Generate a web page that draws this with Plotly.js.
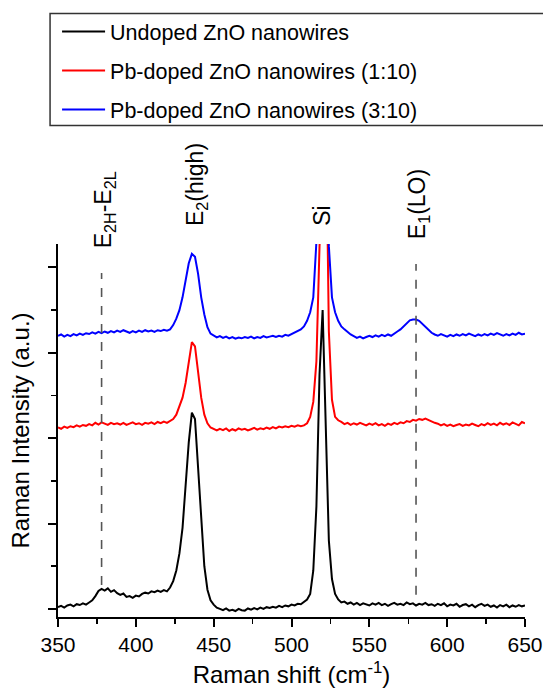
<!DOCTYPE html>
<html>
<head>
<meta charset="utf-8">
<script src="https://cdn.plot.ly/plotly-3.0.1.min.js"></script>
<style>html,body{margin:0;padding:0;background:#fff;}#chart{width:543px;height:691px;}</style>
</head>
<body>
<div id="chart"></div>
<script>
// Raman shift (cm^-1)
const ramanShift = [
350,352,354,356,358,360,362,364,366,368,
370,372,374,376,378,380,382,384,386,388,
390,392,394,396,398,400,402,404,406,408,
410,412,414,416,418,420,422,424,426,428,
430,432,434,436,438,440,442,444,446,448,
450,452,454,456,458,460,462,464,466,468,
470,472,474,476,478,480,482,484,486,488,
490,492,494,496,498,500,502,504,506,508,
510,512,514,516,518,520,522,524,526,528,
530,532,534,536,538,540,542,544,546,548,
550,552,554,556,558,560,562,564,566,568,
570,572,574,576,578,580,582,584,586,588,
590,592,594,596,598,600,602,604,606,608,
610,612,614,616,618,620,622,624,626,628,
630,632,634,636,638,640,642,644,646,648,
650];

// Undoped ZnO nanowires (offset spectra, a.u.)
const undoped = [
0.04,0.07,0.03,0.08,0.10,0.06,0.11,0.09,0.13,0.10,
0.15,0.20,0.30,0.42,0.47,0.43,0.48,0.40,0.44,0.37,
0.33,0.36,0.28,0.30,0.26,0.31,0.29,0.35,0.38,0.36,
0.41,0.39,0.43,0.40,0.44,0.41,0.50,0.65,0.90,1.30,
1.90,2.90,3.90,4.60,4.45,3.30,2.00,1.00,0.45,0.20,
0.10,0.03,0.00,-0.03,0.01,-0.04,-0.02,-0.05,0.00,-0.03,
-0.04,0.01,-0.02,0.02,-0.01,0.03,0.00,0.04,0.02,0.05,
0.03,0.07,0.04,0.08,0.06,0.10,0.08,0.12,0.11,0.16,
0.22,0.35,0.90,2.40,5.50,7.00,4.00,1.60,0.70,0.35,
0.22,0.15,0.17,0.12,0.15,0.10,0.14,0.09,0.13,0.11,
0.08,0.13,0.10,0.14,0.09,0.12,0.07,0.11,0.14,0.10,
0.12,0.09,0.15,0.11,0.13,0.08,0.12,0.10,0.14,0.09,
0.11,0.07,0.12,0.09,0.13,0.06,0.10,0.08,0.12,0.05,
0.09,0.11,0.06,0.10,0.04,0.09,0.12,0.07,0.10,0.05,
0.08,0.03,0.09,0.06,0.10,0.04,0.08,0.05,0.09,0.06,
0.08];

// Pb-doped ZnO nanowires (1:10)
const pbDoped1 = [
4.25,4.22,4.27,4.24,4.28,4.26,4.30,4.27,4.31,4.29,
4.33,4.30,4.36,4.32,4.37,4.34,4.31,4.36,4.33,4.35,
4.32,4.36,4.31,4.34,4.37,4.33,4.35,4.31,4.36,4.34,
4.37,4.33,4.38,4.35,4.39,4.36,4.40,4.45,4.55,4.75,
4.95,5.30,5.80,6.25,6.15,5.50,4.95,4.55,4.35,4.25,
4.22,4.18,4.22,4.19,4.23,4.17,4.21,4.18,4.23,4.20,
4.22,4.18,4.21,4.24,4.20,4.23,4.21,4.25,4.22,4.26,
4.23,4.27,4.25,4.28,4.26,4.29,4.27,4.30,4.28,4.30,
4.35,4.50,4.85,5.80,8.50,11.5,12.0,6.50,4.90,4.50,
4.42,4.38,4.33,4.36,4.31,4.35,4.32,4.36,4.33,4.30,
4.34,4.31,4.35,4.30,4.33,4.29,4.34,4.31,4.36,4.33,
4.37,4.35,4.40,4.38,4.43,4.41,4.45,4.43,4.46,4.42,
4.40,4.36,4.34,4.30,4.33,4.29,4.32,4.28,4.31,4.33,
4.29,4.32,4.30,4.34,4.31,4.28,4.33,4.30,4.35,4.31,
4.34,4.30,4.36,4.32,4.35,4.31,4.37,4.33,4.30,4.38,
4.35];

// Pb-doped ZnO nanowires (3:10)
const pbDoped3 = [
6.40,6.43,6.38,6.42,6.39,6.44,6.41,6.45,6.42,6.46,
6.44,6.48,6.45,6.49,6.46,6.50,6.47,6.51,6.48,6.52,
6.49,6.53,6.50,6.47,6.51,6.48,6.52,6.49,6.53,6.50,
6.52,6.49,6.53,6.51,6.54,6.52,6.55,6.65,6.80,7.00,
7.30,7.75,8.10,8.32,8.25,7.85,7.30,6.90,6.60,6.45,
6.40,6.36,6.39,6.35,6.38,6.34,6.37,6.33,6.36,6.34,
6.37,6.35,6.38,6.34,6.37,6.35,6.39,6.36,6.38,6.40,
6.37,6.40,6.38,6.42,6.40,6.44,6.48,6.52,6.55,6.62,
6.75,6.95,7.30,8.60,11.5,13.0,11.0,8.50,7.30,6.95,
6.75,6.62,6.55,6.48,6.43,6.39,6.35,6.38,6.34,6.37,
6.40,6.37,6.41,6.38,6.42,6.39,6.43,6.40,6.46,6.50,
6.55,6.62,6.70,6.76,6.78,6.78,6.75,6.68,6.60,6.53,
6.47,6.43,6.40,6.44,6.41,6.38,6.42,6.39,6.43,6.40,
6.44,6.41,6.45,6.42,6.39,6.43,6.40,6.44,6.41,6.45,
6.42,6.46,6.43,6.40,6.44,6.41,6.45,6.42,6.47,6.43,
6.45];

const seriesNames = ['Undoped ZnO nanowires', 'Pb-doped ZnO nanowires (1:10)', 'Pb-doped ZnO nanowires (3:10)'];
const seriesColors = ['#000000', '#ff0000', '#0000ff'];

// Peak assignments
const peakLabels = ['E<sub>2H</sub>-E<sub>2L</sub>', 'E<sub>2</sub>(high)', 'Si', 'E<sub>1</sub>(LO)'];
const peakPositions = [378, 437, 520, 580];
// dashed guide lines (position, lower end, upper end)
const guidePositions = [378, 580];
const guideLow = [0.56, 0.33];
const guideHigh = [7.87, 8.08];

const FONT = 'Arial, "Liberation Sans", sans-serif';

const traces = [undoped, pbDoped1, pbDoped3].map((ys, i) => ({
  type: 'scatter', mode: 'lines',
  x: ramanShift, y: ys,
  name: seriesNames[i],
  legendgroup: 'g' + i,
  line: {color: seriesColors[i], width: 2},
  hoverinfo: 'skip'
}));

const shapes = guidePositions.map((p, i) => ({
  type: 'line', xref: 'x', yref: 'y',
  x0: p, x1: p, y0: guideLow[i], y1: guideHigh[i],
  line: {color: '#555555', width: 1.6, dash: 'dash'}
}));
// legend frame
shapes.push({
  type: 'rect', xref: 'paper', yref: 'paper',
  x0: -0.017, x1: 1.3, y0: 1.318, y1: 1.618,
  line: {color: '#333333', width: 1.5}, fillcolor: 'rgba(0,0,0,0)'
});

// label placement (pixel offsets of the rotated labels)
const labelShiftX = [3, 3, -1, 2];
const labelShiftY = [-4, 18, 18, 5];
const annotations = peakLabels.map((t, i) => ({
  text: t, xref: 'x', yref: 'y', x: peakPositions[i], y: 8.5,
  showarrow: false, textangle: -90, xanchor: 'center', yanchor: 'bottom',
  xshift: labelShiftX[i], yshift: labelShiftY[i],
  font: {family: FONT, size: 23, color: '#000'}
}));

const layout = {
  width: 543, height: 691,
  margin: {l: 58, r: 18, t: 243, b: 74},
  paper_bgcolor: '#ffffff', plot_bgcolor: '#ffffff',
  font: {family: FONT, color: '#000'},
  showlegend: true,
  legend: {
    x: -0.002, y: 1.62, xanchor: 'left', yanchor: 'top',
    bgcolor: 'rgba(0,0,0,0)', borderwidth: 0,
    font: {family: FONT, size: 21.5, color: '#000'},
    traceorder: 'grouped', tracegroupgap: 8, itemwidth: 43
  },
  xaxis: {
    range: [350, 650], tick0: 350, dtick: 50,
    showline: true, linecolor: '#000', linewidth: 2, mirror: false,
    ticks: 'outside', ticklen: 8, tickwidth: 2, tickcolor: '#000',
    minor: {dtick: 25, ticks: 'outside', ticklen: 5, tickwidth: 1.5, tickcolor: '#000', showgrid: false},
    showgrid: false, zeroline: false,
    tickfont: {family: FONT, size: 21, color: '#000'},
    title: {text: 'Raman shift (cm<sup>-1</sup>)', font: {family: FONT, size: 24, color: '#000'}, standoff: 11}
  },
  yaxis: {
    range: [-0.19, 8.55], tick0: 0, dtick: 2,
    showline: true, linecolor: '#000', linewidth: 2,
    ticks: 'outside', ticklen: 8, tickwidth: 2, tickcolor: '#000',
    minor: {dtick: 1, ticks: 'outside', ticklen: 5, tickwidth: 1.5, tickcolor: '#000', showgrid: false},
    showticklabels: false, showgrid: false, zeroline: false,
    title: {text: 'Raman Intensity (a.u.)', font: {family: FONT, size: 24, color: '#000'}, standoff: 12}
  },
  shapes: shapes,
  annotations: annotations
};

Plotly.newPlot('chart', traces, layout, {staticPlot: true, displayModeBar: false});
</script>
</body>
</html>
